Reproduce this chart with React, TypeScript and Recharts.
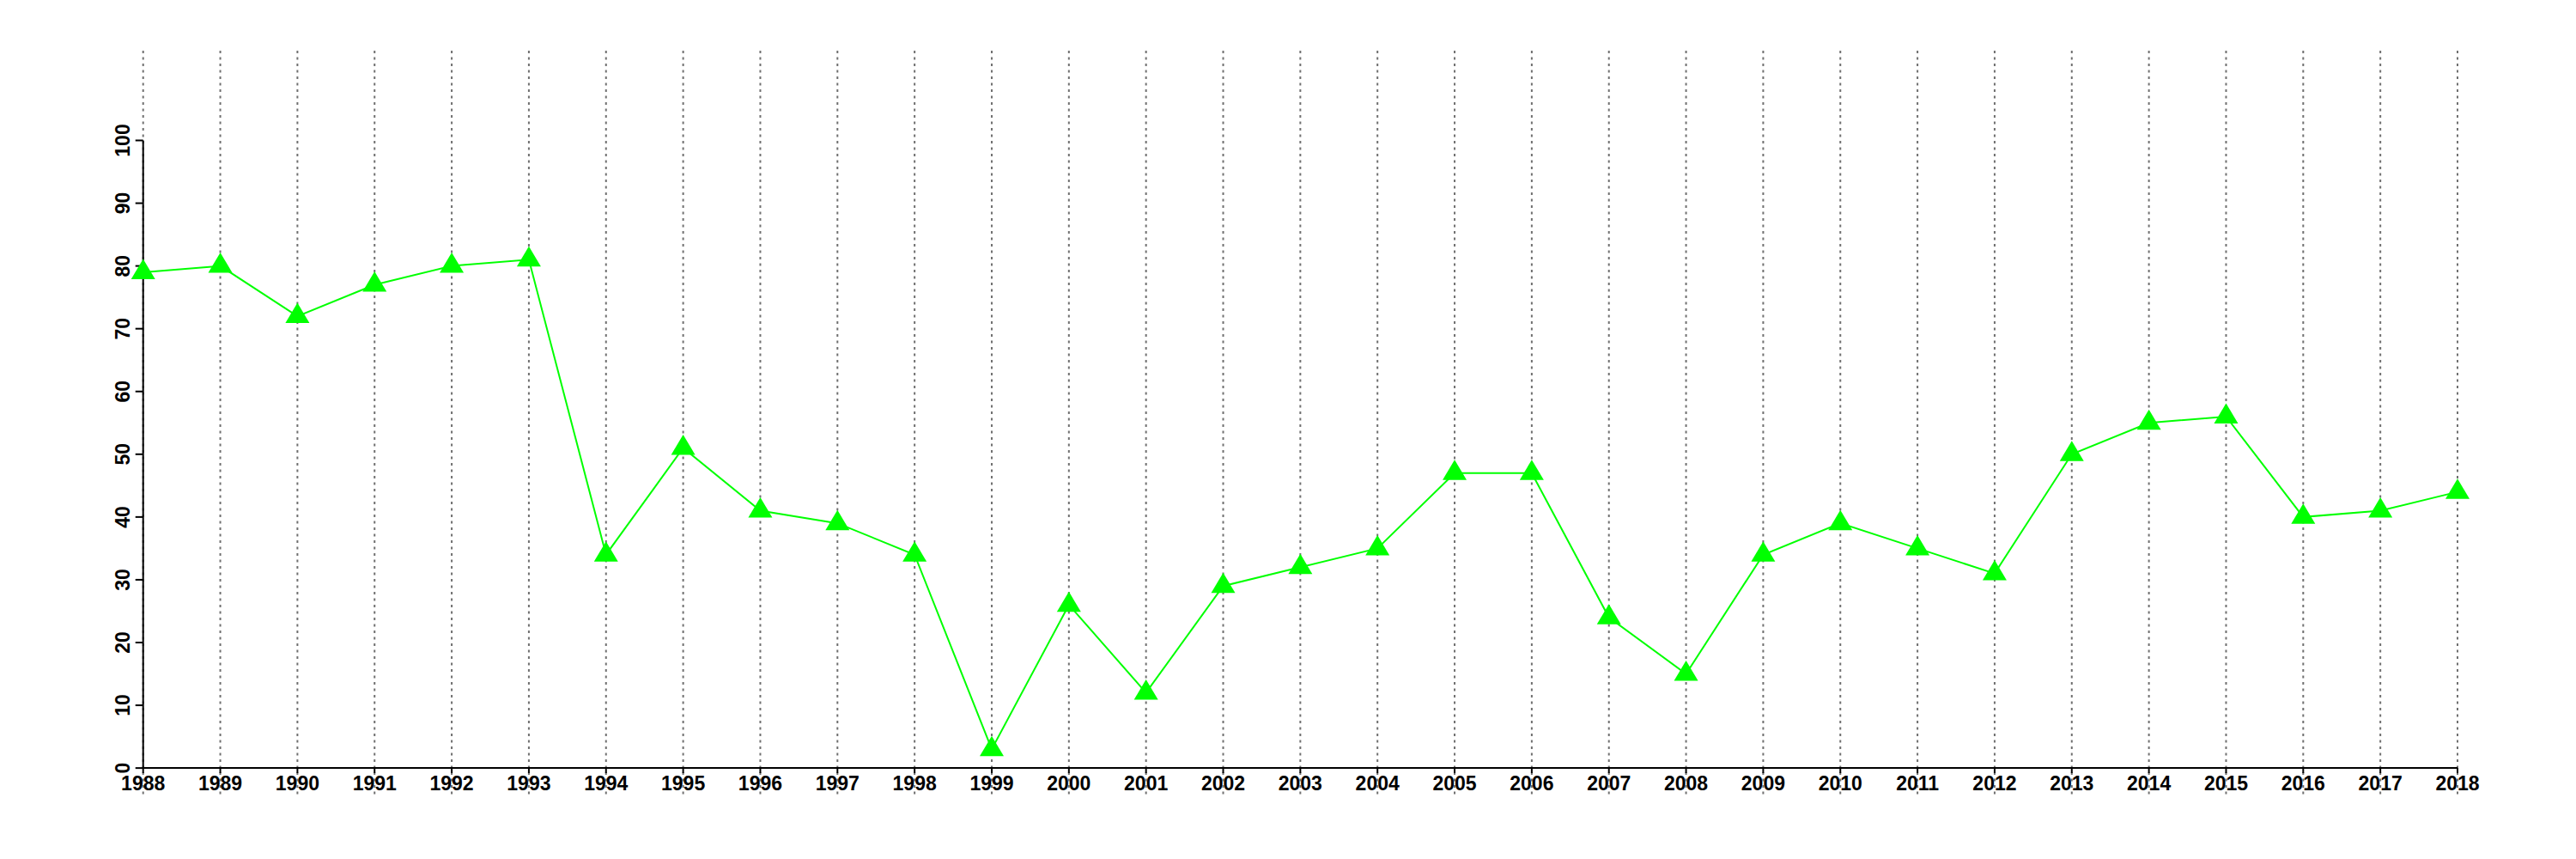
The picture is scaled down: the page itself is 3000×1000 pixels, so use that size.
import React from 'react';
import { LineChart, Line, XAxis, YAxis, CartesianGrid, ReferenceLine } from 'recharts';

const YEARS = [
  1988, 1989, 1990, 1991, 1992, 1993, 1994, 1995, 1996, 1997, 1998,
  1999, 2000, 2001, 2002, 2003, 2004, 2005, 2006, 2007, 2008,
  2009, 2010, 2011, 2012, 2013, 2014, 2015, 2016, 2017, 2018,
];
const VALUES = [
  79, 80, 72, 77, 80, 81, 34, 51, 41, 39, 34,
  3, 26, 12, 29, 32, 35, 47, 47, 24, 15,
  34, 39, 35, 31, 50, 55, 56, 40, 41, 44,
];
const Y_TICKS = [0, 10, 20, 30, 40, 50, 60, 70, 80, 90, 100];

const data = YEARS.map((year, i) => ({ year, value: VALUES[i] }));

const FONT = '"Liberation Sans", Arial, Helvetica, sans-serif';
const GREEN = '#00ff00';

// filled triangle, centroid on the data point
const Triangle = (props: any) => {
  const { cx, cy } = props;
  if (cx == null || cy == null) return null;
  return <path d={`M${cx},${cy - 15.5}L${cx + 14},${cy + 8}L${cx - 14},${cy + 8}Z`} fill={GREEN} />;
};

const YTick = (props: any) => {
  const { x, y, payload } = props;
  return (
    <text
      x={x}
      y={y}
      transform={`rotate(-90, ${x}, ${y})`}
      textAnchor="middle"
      fontFamily={FONT}
      fontWeight="bold"
      fontSize={23}
      fill="#000"
    >
      {payload.value}
    </text>
  );
};

// x labels sit just under the y=0 axis line, above the bottom of the plot area
const XTick = (props: any) => {
  const { x, y, payload } = props;
  return (
    <g>
      <line x1={x} x2={x} y1={y - 33} y2={y - 27} stroke="#000" strokeWidth={2} />
      <text x={x} y={y - 7} textAnchor="middle" fontFamily={FONT} fontWeight="bold" fontSize={23} fill="#000">
        {payload.value}
      </text>
    </g>
  );
};

const App: React.FC = () => {
  return (
    <div style={{ position: 'absolute', left: 0, top: 0, width: 3000, height: 1000, background: '#fff' }}>
      <LineChart width={3000} height={1000} data={data} margin={{ top: 59, right: 138, bottom: 33, left: 86.7 }}>
        <CartesianGrid horizontal={false} stroke="#707070" strokeWidth={2} strokeDasharray="3 4.5" />
        <XAxis
          dataKey="year"
          type="number"
          domain={[1988, 2018]}
          ticks={YEARS}
          interval={0}
          axisLine={false}
          tickLine={false}
          tickSize={0}
          tickMargin={0}
          height={40}
          tick={<XTick />}
        />
        <YAxis
          type="number"
          domain={[-4.5, 114.3]}
          ticks={Y_TICKS}
          interval={0}
          width={80}
          axisLine={false}
          tickLine={{ stroke: '#000', strokeWidth: 2 }}
          tickSize={9}
          tickMargin={7}
          tick={<YTick />}
        />
        <ReferenceLine segment={[{ x: 1988, y: 0 }, { x: 1988, y: 100 }]} stroke="#000" strokeWidth={2} />
        <ReferenceLine segment={[{ x: 1988, y: 0 }, { x: 2018, y: 0 }]} stroke="#000" strokeWidth={2} />
        <Line
          type="linear"
          dataKey="value"
          stroke={GREEN}
          strokeWidth={2}
          dot={<Triangle />}
          activeDot={false}
          isAnimationActive={false}
        />
      </LineChart>
    </div>
  );
};

export default App;
